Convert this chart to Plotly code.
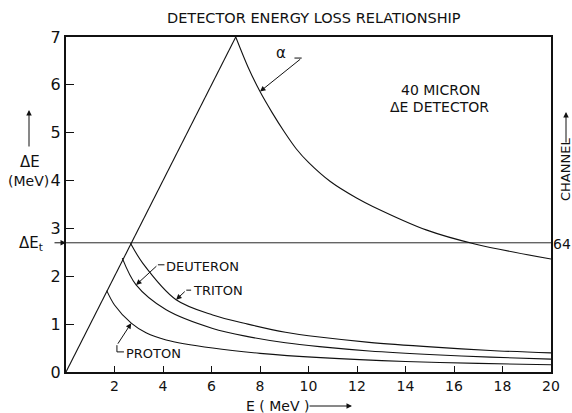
import plotly.graph_objects as go

# ---- data (MeV) ----
# stopping line: particle stops inside the detector, so ΔE = E
stop_E = [0.0, 7.0]
stop_dE = [0.0, 7.0]

alpha_E = [7.0, 7.5, 8.0, 8.5, 9.0, 9.5, 10.0, 10.9, 12.0, 12.65, 14.85, 16.9, 20.0]
alpha_dE = [7.0, 6.38, 5.86, 5.42, 5.02, 4.66, 4.38, 3.98, 3.63, 3.46, 2.97, 2.67, 2.36]

triton_E = [2.66, 3.17, 4.54, 6.05, 7.5, 9.05, 10.45, 12.5, 15.2, 17.5, 20.0]
triton_dE = [2.69, 2.27, 1.51, 1.19, 1.00, 0.83, 0.73, 0.62, 0.52, 0.45, 0.40]

deuteron_E = [2.32, 2.89, 4.13, 6.05, 7.5, 9.05, 10.45, 12.5, 15.2, 17.5, 20.0]
deuteron_dE = [2.38, 1.82, 1.30, 0.91, 0.74, 0.61, 0.53, 0.44, 0.36, 0.31, 0.27]

proton_E = [1.68, 2.0, 2.69, 3.3, 4.13, 6.05, 8.0, 10.5, 14.0, 17.0, 20.0]
proton_dE = [1.70, 1.40, 1.02, 0.82, 0.67, 0.50, 0.39, 0.30, 0.22, 0.18, 0.15]

threshold_dE = 2.7
threshold_channel = "64"

x_ticks = [2, 4, 6, 8, 10, 12, 14, 16, 18, 20]
y_ticks = [0, 1, 2, 3, 4, 5, 6, 7]

# ---- geometry helpers ----
W, H = 572, 413
ML, MR, MT, MB = 66, 21, 37, 41
PW, PH = W - ML - MR, H - MT - MB


def px_x(px):
    return (px - ML) / PW


def px_y(py):
    return (H - MB - py) / PH


FONT = "DejaVu Sans"
INK = "#111111"

fig = go.Figure()

line = dict(color=INK, width=1.1)
fig.add_trace(go.Scatter(x=stop_E, y=stop_dE, mode="lines", line=line))
fig.add_trace(go.Scatter(x=alpha_E, y=alpha_dE, mode="lines",
                         line=dict(line, shape="spline", smoothing=0.9)))
for xs, ys in [(triton_E, triton_dE), (deuteron_E, deuteron_dE), (proton_E, proton_dE)]:
    fig.add_trace(go.Scatter(x=xs, y=ys, mode="lines",
                             line=dict(line, shape="spline", smoothing=0.9)))
# ΔE threshold line
fig.add_trace(go.Scatter(x=[0, 20], y=[threshold_dE, threshold_dE], mode="lines",
                         line=dict(color=INK, width=0.9)))

ann = []


def text(x, y, s, size=13, xref="x", yref="y", xanchor="center", **kw):
    ann.append(dict(x=x, y=y, xref=xref, yref=yref, text=s, showarrow=False,
                    xanchor=xanchor, yanchor="middle",
                    font=dict(family=FONT, size=size, color=INK), **kw))


def arrow(x, y, ax, ay, xref="x", yref="y", axref="x", ayref="y"):
    ann.append(dict(x=x, y=y, xref=xref, yref=yref, ax=ax, ay=ay,
                    axref=axref, ayref=ayref, text="", showarrow=True,
                    arrowhead=2, arrowsize=1.1, arrowwidth=1, arrowcolor=INK))


# title
text(px_x(314), px_y(18), "DETECTOR ENERGY LOSS RELATIONSHIP", size=14.5,
     xref="paper", yref="paper")

# detector note
text(15.44, 5.90, "40 MICRON", size=14)
text(15.40, 5.54, "ΔE DETECTOR", size=14)

# alpha label and leader
text(8.85, 6.66, "α", size=15)
shapes = []
shapes.append(dict(type="line", x0=9.42, y0=6.56, x1=9.72, y1=6.56,
                   line=dict(color=INK, width=1)))
arrow(alpha_E[2], alpha_dE[2], 9.72, 6.56)

# curve labels with leaders
text(4.06, 2.20, "DEUTERON", size=13, xanchor="left")
shapes.append(dict(type="line", x0=4.06, y0=2.24, x1=3.79, y1=2.24,
                   line=dict(color=INK, width=1)))
arrow(deuteron_E[1], deuteron_dE[1], 3.79, 2.24)

text(5.16, 1.70, "TRITON", size=13, xanchor="left")
shapes.append(dict(type="line", x0=5.16, y0=1.71, x1=4.96, y1=1.71,
                   line=dict(color=INK, width=1)))
arrow(triton_E[2], triton_dE[2], 4.96, 1.71)

text(2.41, 0.39, "PROTON", size=13, xanchor="left")
shapes.append(dict(type="path", path="M 2.39,0.42 L 2.10,0.42 L 2.10,0.56",
                   line=dict(color=INK, width=1)))
arrow(proton_E[2], proton_dE[2], 2.10, 0.56)

# left axis labels
text(px_x(30), px_y(162), "ΔE", size=15, xref="paper", yref="paper")
text(px_x(28), px_y(181), "(MeV)", size=14, xref="paper", yref="paper")
arrow(px_x(29), px_y(110), 0, 38, xref="paper", yref="paper",
      axref="pixel", ayref="pixel")
text(px_x(31), px_y(243), "ΔE<sub>t</sub>", size=15, xref="paper", yref="paper")
arrow(0, threshold_dE, -13, 0, xref="x", yref="y", axref="pixel", ayref="pixel")

# right axis labels
text(px_x(565), px_y(170), "CHANNEL", size=13, xref="paper", yref="paper",
     textangle=-90)
arrow(px_x(566), px_y(112), 0, 32, xref="paper", yref="paper",
      axref="pixel", ayref="pixel")
text(px_x(562), px_y(244), threshold_channel, size=14, xref="paper", yref="paper")

# bottom axis label
text(px_x(277), px_y(406), "E ( MeV )", size=14, xref="paper", yref="paper")
arrow(px_x(352), px_y(406), -44, 0, xref="paper", yref="paper",
      axref="pixel", ayref="pixel")

fig.update_layout(
    width=W, height=H,
    margin=dict(l=ML, r=MR, t=MT, b=MB),
    paper_bgcolor="white", plot_bgcolor="white",
    showlegend=False,
    annotations=ann, shapes=shapes,
    xaxis=dict(range=[0, 20], tickvals=x_ticks, ticktext=[str(v) for v in x_ticks],
               ticks="inside", ticklen=6, tickcolor=INK, tickwidth=1,
               showline=True, linecolor=INK, linewidth=2, mirror=True,
               showgrid=False, zeroline=False,
               tickfont=dict(family=FONT, size=14, color=INK)),
    yaxis=dict(range=[0, 7], tickvals=y_ticks, ticktext=[str(v) for v in y_ticks],
               ticks="inside", ticklen=8, tickcolor=INK, tickwidth=1,
               showline=True, linecolor=INK, linewidth=2, mirror=True,
               showgrid=False, zeroline=False,
               tickfont=dict(family=FONT, size=16, color=INK)),
)

fig.write_html("out.html")
